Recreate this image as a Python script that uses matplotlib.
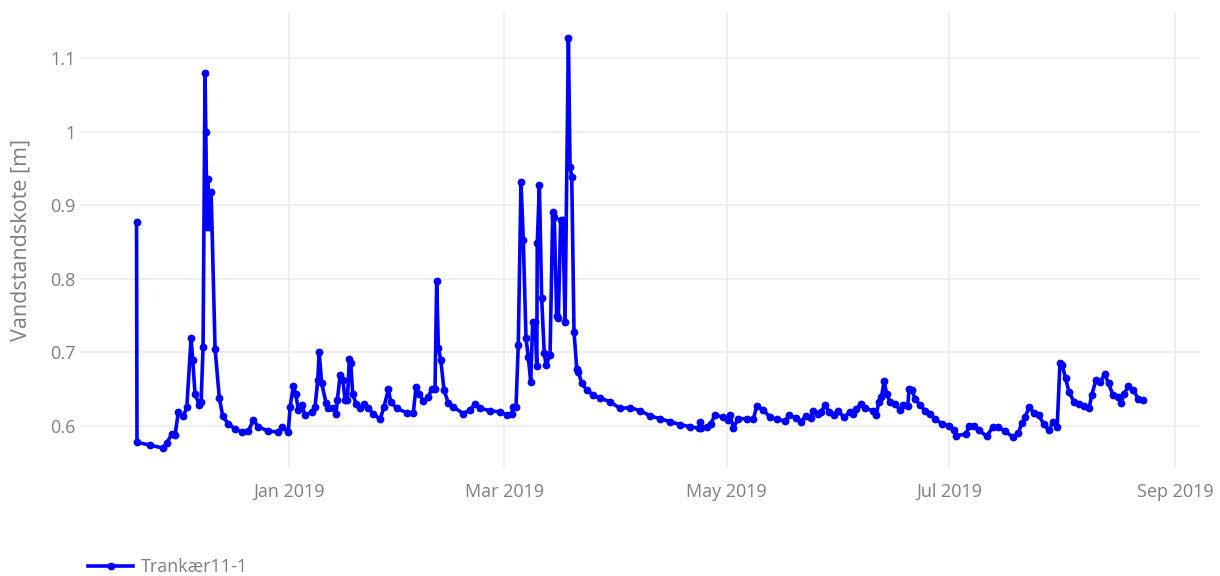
import pandas as pd
import matplotlib
matplotlib.use("Agg")
import matplotlib.pyplot as plt
import matplotlib.dates as mdates
from matplotlib.ticker import FuncFormatter

# Vandstandskote for Trankær11-1, nov 2018 - aug 2019
tider = [
    "2018-11-20 04:00", "2018-11-20 07:00", "2018-11-23 21:00", "2018-11-27 12:00", "2018-11-28 11:00",
    "2018-11-29 20:00", "2018-11-30 18:00", "2018-12-01 15:00", "2018-12-03 00:00", "2018-12-03 23:00",
    "2018-12-05 03:00", "2018-12-05 14:00", "2018-12-06 05:00", "2018-12-07 08:00", "2018-12-07 21:00",
    "2018-12-08 10:00", "2018-12-08 23:00", "2018-12-09 04:00", "2018-12-09 12:00", "2018-12-09 19:00",
    "2018-12-10 01:00", "2018-12-10 15:00", "2018-12-11 17:00", "2018-12-12 21:00", "2018-12-13 20:00",
    "2018-12-15 08:00", "2018-12-17 05:00", "2018-12-19 01:00", "2018-12-20 20:00", "2018-12-22 05:00",
    "2018-12-23 14:00", "2018-12-26 08:00", "2018-12-29 02:00", "2018-12-30 00:00", "2018-12-31 19:00",
    "2019-01-01 07:00", "2019-01-02 04:00", "2019-01-02 20:00", "2019-01-03 13:00", "2019-01-04 12:00",
    "2019-01-05 09:00", "2019-01-07 06:00", "2019-01-08 03:00", "2019-01-08 21:00", "2019-01-09 06:00",
    "2019-01-09 23:00", "2019-01-11 04:00", "2019-01-11 19:00", "2019-01-13 04:00", "2019-01-13 21:00",
    "2019-01-14 06:00", "2019-01-15 00:00", "2019-01-15 18:00", "2019-01-16 09:00", "2019-01-17 00:00",
    "2019-01-17 13:00", "2019-01-17 22:00", "2019-01-18 11:00", "2019-01-19 09:00", "2019-01-20 11:00",
    "2019-01-21 14:00", "2019-01-22 18:00", "2019-01-24 03:00", "2019-01-25 23:00", "2019-01-27 01:00",
    "2019-01-28 06:00", "2019-01-28 21:00", "2019-01-30 13:00", "2019-02-02 07:00", "2019-02-04 02:00",
    "2019-02-04 20:00", "2019-02-05 18:00", "2019-02-06 20:00", "2019-02-08 05:00", "2019-02-09 03:00",
    "2019-02-10 01:00", "2019-02-10 12:00", "2019-02-10 23:00", "2019-02-11 15:00", "2019-02-12 12:00",
    "2019-02-13 17:00", "2019-02-15 01:00", "2019-02-17 19:00", "2019-02-19 15:00", "2019-02-21 00:00",
    "2019-02-22 09:00", "2019-02-25 03:00", "2019-02-27 21:00", "2019-03-01 17:00", "2019-03-03 02:00",
    "2019-03-03 12:00", "2019-03-04 06:00", "2019-03-04 21:00", "2019-03-05 15:00", "2019-03-06 06:00",
    "2019-03-07 00:00", "2019-03-07 15:00", "2019-03-08 07:00", "2019-03-08 20:00", "2019-03-09 11:00",
    "2019-03-09 23:00", "2019-03-10 02:00", "2019-03-10 16:00", "2019-03-11 07:00", "2019-03-12 00:00",
    "2019-03-12 12:00", "2019-03-13 14:00", "2019-03-14 08:00", "2019-03-14 18:00", "2019-03-15 10:00",
    "2019-03-15 21:00", "2019-03-16 12:00", "2019-03-17 02:00", "2019-03-17 17:00", "2019-03-18 15:00",
    "2019-03-19 02:00", "2019-03-19 13:00", "2019-03-20 04:00", "2019-03-20 22:00", "2019-03-21 08:00",
    "2019-03-22 07:00", "2019-03-23 16:00", "2019-03-25 11:00", "2019-03-27 07:00", "2019-03-30 01:00",
    "2019-04-01 19:00", "2019-04-04 13:00", "2019-04-07 06:00", "2019-04-10 00:00", "2019-04-12 18:00",
    "2019-04-15 12:00", "2019-04-18 06:00", "2019-04-21 00:00", "2019-04-23 14:00", "2019-04-23 18:00",
    "2019-04-23 22:00", "2019-04-25 13:00", "2019-04-26 16:00", "2019-04-27 20:00", "2019-04-30 03:00",
    "2019-05-01 12:00", "2019-05-01 23:00", "2019-05-02 21:00", "2019-05-04 06:00", "2019-05-06 13:00",
    "2019-05-08 08:00", "2019-05-09 07:00", "2019-05-11 02:00", "2019-05-12 22:00", "2019-05-14 18:00",
    "2019-05-17 01:00", "2019-05-18 05:00", "2019-05-20 00:00", "2019-05-21 08:00", "2019-05-22 17:00",
    "2019-05-24 03:00", "2019-05-24 20:00", "2019-05-25 23:00", "2019-05-26 21:00", "2019-05-28 00:00",
    "2019-05-29 05:00", "2019-05-30 09:00", "2019-05-31 12:00", "2019-06-02 08:00", "2019-06-03 18:00",
    "2019-06-04 16:00", "2019-06-05 14:00", "2019-06-06 19:00", "2019-06-07 21:00", "2019-06-10 05:00",
    "2019-06-11 03:00", "2019-06-11 18:00", "2019-06-12 12:00", "2019-06-13 06:00", "2019-06-13 22:00",
    "2019-06-14 20:00", "2019-06-16 05:00", "2019-06-17 14:00", "2019-06-18 12:00", "2019-06-19 17:00",
    "2019-06-20 02:00", "2019-06-20 20:00", "2019-06-21 18:00", "2019-06-23 03:00", "2019-06-24 13:00",
    "2019-06-25 22:00", "2019-06-27 07:00", "2019-06-29 04:00", "2019-07-01 00:00", "2019-07-02 09:00",
    "2019-07-03 01:00", "2019-07-05 15:00", "2019-07-06 14:00", "2019-07-07 23:00", "2019-07-09 08:00",
    "2019-07-11 09:00", "2019-07-13 02:00", "2019-07-14 11:00", "2019-07-16 07:00", "2019-07-18 15:00",
    "2019-07-20 01:00", "2019-07-20 23:00", "2019-07-21 21:00", "2019-07-23 02:00", "2019-07-24 05:00",
    "2019-07-25 14:00", "2019-07-27 00:00", "2019-07-28 09:00", "2019-07-29 14:00", "2019-07-30 17:00",
    "2019-07-31 11:00", "2019-08-01 02:00", "2019-08-02 00:00", "2019-08-02 23:00", "2019-08-04 08:00",
    "2019-08-05 18:00", "2019-08-07 03:00", "2019-08-08 12:00", "2019-08-09 04:00", "2019-08-10 09:00",
    "2019-08-11 14:00", "2019-08-12 17:00", "2019-08-13 19:00", "2019-08-15 00:00", "2019-08-16 10:00",
    "2019-08-17 04:00", "2019-08-18 02:00", "2019-08-19 05:00", "2019-08-20 14:00", "2019-08-21 23:00",
    "2019-08-23 09:00",
]

kote = [
    0.877, 0.578, 0.574, 0.570, 0.577,
    0.589, 0.588, 0.619, 0.613, 0.626,
    0.719, 0.690, 0.644, 0.629, 0.632,
    0.708, 1.080, 1.000, 0.870, 0.935,
    0.870, 0.918, 0.705, 0.638, 0.613,
    0.603, 0.596, 0.592, 0.593, 0.608,
    0.599, 0.593, 0.592, 0.599, 0.592,
    0.626, 0.654, 0.644, 0.622, 0.629,
    0.615, 0.619, 0.626, 0.662, 0.700,
    0.658, 0.631, 0.624, 0.625, 0.617,
    0.635, 0.669, 0.663, 0.635, 0.635,
    0.691, 0.686, 0.644, 0.630, 0.624,
    0.630, 0.624, 0.617, 0.609, 0.626,
    0.650, 0.633, 0.624, 0.618, 0.618,
    0.653, 0.644, 0.634, 0.639, 0.651,
    0.651, 0.797, 0.706, 0.690, 0.649,
    0.631, 0.626, 0.617, 0.622, 0.630,
    0.624, 0.621, 0.619, 0.615, 0.616,
    0.626, 0.626, 0.710, 0.932, 0.853,
    0.719, 0.694, 0.660, 0.742, 0.742,
    0.681, 0.848, 0.927, 0.774, 0.699,
    0.683, 0.696, 0.891, 0.884, 0.749,
    0.747, 0.880, 0.880, 0.742, 1.127,
    0.952, 0.939, 0.728, 0.678, 0.674,
    0.658, 0.649, 0.642, 0.638, 0.633,
    0.624, 0.625, 0.621, 0.614, 0.610,
    0.606, 0.602, 0.599, 0.597, 0.605,
    0.597, 0.599, 0.603, 0.615, 0.612,
    0.608, 0.615, 0.598, 0.610, 0.610,
    0.609, 0.627, 0.622, 0.612, 0.609,
    0.607, 0.615, 0.611, 0.606, 0.613,
    0.611, 0.621, 0.617, 0.619, 0.628,
    0.619, 0.615, 0.620, 0.612, 0.619,
    0.616, 0.623, 0.630, 0.624, 0.621,
    0.615, 0.633, 0.640, 0.661, 0.644,
    0.633, 0.630, 0.622, 0.628, 0.627,
    0.651, 0.649, 0.637, 0.628, 0.621,
    0.616, 0.609, 0.603, 0.600, 0.594,
    0.587, 0.589, 0.600, 0.600, 0.594,
    0.586, 0.599, 0.599, 0.593, 0.585,
    0.590, 0.604, 0.612, 0.626, 0.618,
    0.615, 0.603, 0.594, 0.606, 0.599,
    0.686, 0.683, 0.665, 0.646, 0.633,
    0.630, 0.627, 0.625, 0.642, 0.663,
    0.660, 0.671, 0.658, 0.642, 0.640,
    0.631, 0.644, 0.654, 0.649, 0.637,
    0.635,
]

serie_navn = "Trankær11-1"
y_titel = "Vandstandskote [m]"
y_ticks = [0.6, 0.7, 0.8, 0.9, 1.0, 1.1]
x_ticks = ["2019-01-01", "2019-03-01", "2019-05-01", "2019-07-01", "2019-09-01"]

tekstfarve = "#7f7f7f"
gitterfarve = "#ebebeb"
plt.rcParams["font.family"] = ["Open Sans", "DejaVu Sans"]

df = pd.DataFrame({"tid": pd.to_datetime(tider), "kote": kote})

fig = plt.figure(figsize=(12.2, 5.76), dpi=100)
ax = fig.add_axes([0.0656, 0.1875, 0.918, 0.7917])

ax.plot(df["tid"], df["kote"], color="#0000ff", lw=2.6, marker="o", ms=4.6,
        label=serie_navn, zorder=3)

ax.set_xlim(pd.Timestamp("2018-11-04 16:00"), pd.Timestamp("2019-09-07 21:00"))
ax.set_ylim(0.543, 1.1625)

ax.set_xticks(pd.to_datetime(x_ticks))
ax.xaxis.set_major_formatter(mdates.DateFormatter("%b %Y"))
ax.set_yticks(y_ticks)
ax.yaxis.set_major_formatter(FuncFormatter(lambda v, p: f"{v:g}"))

ax.grid(True, color=gitterfarve, lw=1.1, zorder=0)
for s in ax.spines.values():
    s.set_visible(False)
ax.tick_params(length=0, labelsize=13, labelcolor=tekstfarve)
ax.tick_params(axis="x", pad=11)
ax.tick_params(axis="y", pad=3)

ax.set_ylabel(y_titel, fontsize=15.5, color=tekstfarve)
ax.yaxis.set_label_coords(-0.043, 0.5)

leg = fig.legend(loc="center left", bbox_to_anchor=(0.0721, 0.0156), frameon=False,
                 fontsize=13, handlelength=2.5, handletextpad=0.45,
                 borderpad=0, borderaxespad=0)
for t in leg.get_texts():
    t.set_color(tekstfarve)

fig.savefig("out.png", dpi=100)
